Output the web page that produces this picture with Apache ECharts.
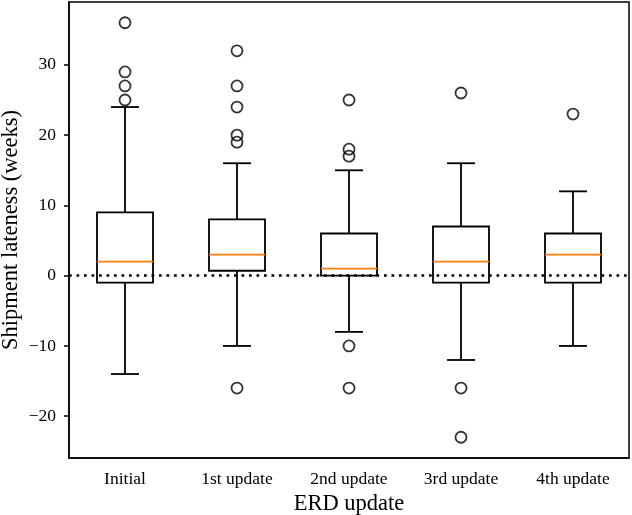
<!DOCTYPE html>
<html>
<head>
<meta charset="utf-8">
<script src="https://cdn.jsdelivr.net/npm/echarts@6/dist/echarts.min.js"></script>
<style>
  html, body { margin: 0; padding: 0; background: #fff; }
  #chart { width: 632px; height: 515px; }
</style>
</head>
<body>
<div id="chart"></div>
<script>
// categories and box stats
const categories = ['Initial', '1st update', '2nd update', '3rd update', '4th update']
const whiskerLow = [-14, -10, -8, -12, -10]
const q1 = [-1, 0.7, 0, -1, -1]
const medians = [2, 3, 1, 2, 3]
const q3 = [9, 8, 6, 7, 6]
const whiskerHigh = [24, 16, 15, 16, 12]
// outliers as [category index, value]
const outliers = [
  [0, 36], [0, 29], [0, 27], [0, 25],
  [1, 32], [1, 27], [1, 24], [1, 20], [1, 19], [1, -16],
  [2, 25], [2, 18], [2, 17], [2, -10], [2, -16],
  [3, 26], [3, -16], [3, -23],
  [4, 23]
]
const yTicks = [-20, -10, 0, 10, 20, 30]

const font = 'Liberation Serif'

const boxData = categories.map((c, i) =>
  [i, whiskerLow[i], q1[i], medians[i], q3[i], whiskerHigh[i]])

function renderBox(params, api) {
  const idx = api.value(0)
  const band = api.size([1, 0])[0]
  const half = band * 0.25
  const cap = band * 0.125
  const pLow = api.coord([idx, api.value(1)])
  const pQ1 = api.coord([idx, api.value(2)])
  const pMed = api.coord([idx, api.value(3)])
  const pQ3 = api.coord([idx, api.value(4)])
  const pHigh = api.coord([idx, api.value(5)])
  const x = pQ1[0]
  const black = { stroke: '#000', lineWidth: 1.8, fill: null }
  return {
    type: 'group',
    children: [
      { type: 'rect', shape: { x: x - half, y: pQ3[1], width: half * 2, height: pQ1[1] - pQ3[1] }, style: black },
      { type: 'line', shape: { x1: x, y1: pQ3[1], x2: x, y2: pHigh[1] }, style: black },
      { type: 'line', shape: { x1: x, y1: pQ1[1], x2: x, y2: pLow[1] }, style: black },
      { type: 'line', shape: { x1: x - cap, y1: pHigh[1], x2: x + cap, y2: pHigh[1] }, style: black },
      { type: 'line', shape: { x1: x - cap, y1: pLow[1], x2: x + cap, y2: pLow[1] }, style: black },
      { type: 'line', shape: { x1: x - half, y1: pMed[1], x2: x + half, y2: pMed[1] }, style: { stroke: '#ff7f0e', lineWidth: 1.8 } }
    ]
  }
}

const chart = echarts.init(document.getElementById('chart'))
chart.setOption({
  animation: false,
  grid: {
    left: 69,
    right: 3,
    top: 2,
    bottom: 57,
    containLabel: false,
    outerBoundsMode: 'none',
    show: true,
    borderColor: '#000',
    borderWidth: 1.5
  },
  xAxis: {
    type: 'category',
    data: categories,
    name: 'ERD update',
    nameLocation: 'middle',
    nameGap: 35,
    nameMoveOverlap: false,
    nameTextStyle: { fontFamily: font, fontSize: 22.5, color: '#000' },
    axisLine: { onZero: false, lineStyle: { color: '#000', width: 1.5 } },
    axisTick: { alignWithLabel: true, length: 5, lineStyle: { color: '#000', width: 1.5 } },
    axisLabel: { fontFamily: font, fontSize: 17.5, color: '#000', margin: 12 },
    splitLine: { show: false }
  },
  yAxis: {
    type: 'value',
    min: -25.95,
    max: 38.95,
    name: 'Shipment lateness (weeks)',
    nameLocation: 'middle',
    nameGap: 46,
    nameMoveOverlap: false,
    nameTextStyle: { fontFamily: font, fontSize: 22.5, color: '#000' },
    axisLine: { show: true, onZero: false, lineStyle: { color: '#000', width: 1.5 } },
    axisTick: { show: true, length: 5, customValues: yTicks, lineStyle: { color: '#000', width: 1.5 } },
    axisLabel: {
      fontFamily: font, fontSize: 17.5, color: '#000', margin: 13,
      customValues: yTicks,
      formatter: v => (v < 0 ? '\u2212' + Math.abs(v) : String(v))
    },
    splitLine: { show: false }
  },
  series: [
    {
      type: 'custom',
      renderItem: renderBox,
      data: boxData,
      encode: { x: 0, y: [1, 2, 3, 4, 5] },
      z: 2
    },
    {
      type: 'scatter',
      data: outliers,
      symbol: 'circle',
      symbolSize: 11,
      itemStyle: { color: 'rgba(0,0,0,0)', borderColor: '#000', borderWidth: 1.8 },
      z: 3,
      markLine: {
        silent: true,
        symbol: ['none', 'none'],
        label: { show: false },
        lineStyle: { color: '#000', width: 2.7, type: [2.7, 4.8] },
        data: [{ yAxis: 0 }]
      }
    }
  ]
})
</script>
</body>
</html>
